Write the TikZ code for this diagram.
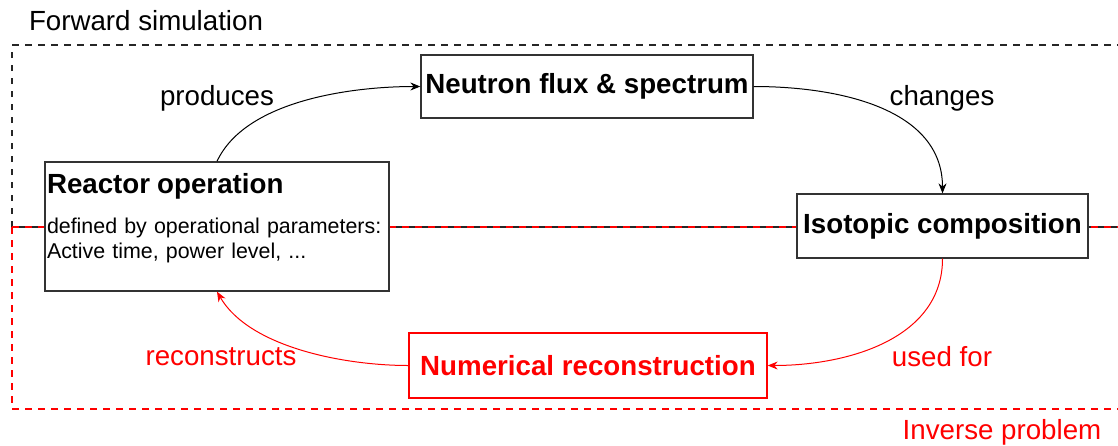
\documentclass[tikz,border=0pt]{standalone}
\usepackage{fontspec}
\setmainfont{Liberation Sans}
\usetikzlibrary{arrows.meta}
\tikzset{
  kutu/.style={draw=black!80, fill=white, line width=0.65pt, inner sep=1pt, align=center,
    font=\bfseries\fontsize{13.85}{16}\selectfont},
  etiket/.style={font=\fontsize{13.85}{16}\selectfont},
  ok/.style={-{Stealth[length=5pt,width=4pt]}, line width=0.5pt},
  cerceve/.style={dash pattern=on 3.25pt off 3.25pt, line width=1.1pt},
}
\begin{document}
\begin{tikzpicture}[x=0.5pt,y=-0.5pt]
  \useasboundingbox (0,0) rectangle (1118,445);
  \clip (0,0) rectangle (1118,445);

  % Frames (forward / inverse)
  \draw[cerceve, black!85] (12,227) -- (12,45) -- (1140,45);
  \draw[cerceve, red] (12,227) -- (12,409) -- (1140,409);
  \draw[cerceve, red] (12,227) -- (1140,227);
  \draw[cerceve, black!85, dash phase=3.25pt] (12,227) -- (1140,227);
  \node[etiket] (ileri) at (146,21) {Forward simulation};
  \node[etiket, red] (ters) at (1002,432) {Inverse problem};

  % Boxes
  \node[kutu, minimum width=172pt, minimum height=64.5pt, text width=170pt, align=left,
        font=\fontsize{10.7}{12.5}\selectfont] (reactor) at (217,226.5)
    {{\bfseries\fontsize{13.85}{16}\selectfont Reactor operation}\\[7.5pt]
     defined by operational parameters:\\
     Active time, power level, ...\rule[-11pt]{0pt}{11pt}};
  \node[kutu, minimum width=166pt, minimum height=31.5pt] (neutron) at (587,86.5) {Neutron flux \& spectrum};
  \node[kutu, minimum width=145.5pt, minimum height=32pt] (isotopic) at (942.5,226) {Isotopic composition};
  \node[kutu, draw=red, text=red, minimum width=179pt, minimum height=32.5pt] (numerical) at (588,365.5) {Numerical reconstruction};

  % Connectors
  \draw[ok] (reactor.north) to[out=65, in=180, looseness=0.8] (neutron.west);
  \draw[ok] (neutron.east) to[out=0, in=90] (isotopic.north);
  \draw[ok, red] (isotopic.south) to[out=-90, in=0] (numerical.east);
  \draw[ok, red] (numerical.west) to[out=180, in=-60, looseness=0.8] (reactor.south);

  % Connector labels
  \node[etiket] (uretir) at (217,98) {produces};
  \node[etiket] (degistirir) at (942,98) {changes};
  \node[etiket, red] (yeniden) at (221,357) {reconstructs};
  \node[etiket, red] (icin) at (942,357) {used for};
\end{tikzpicture}
\end{document}
